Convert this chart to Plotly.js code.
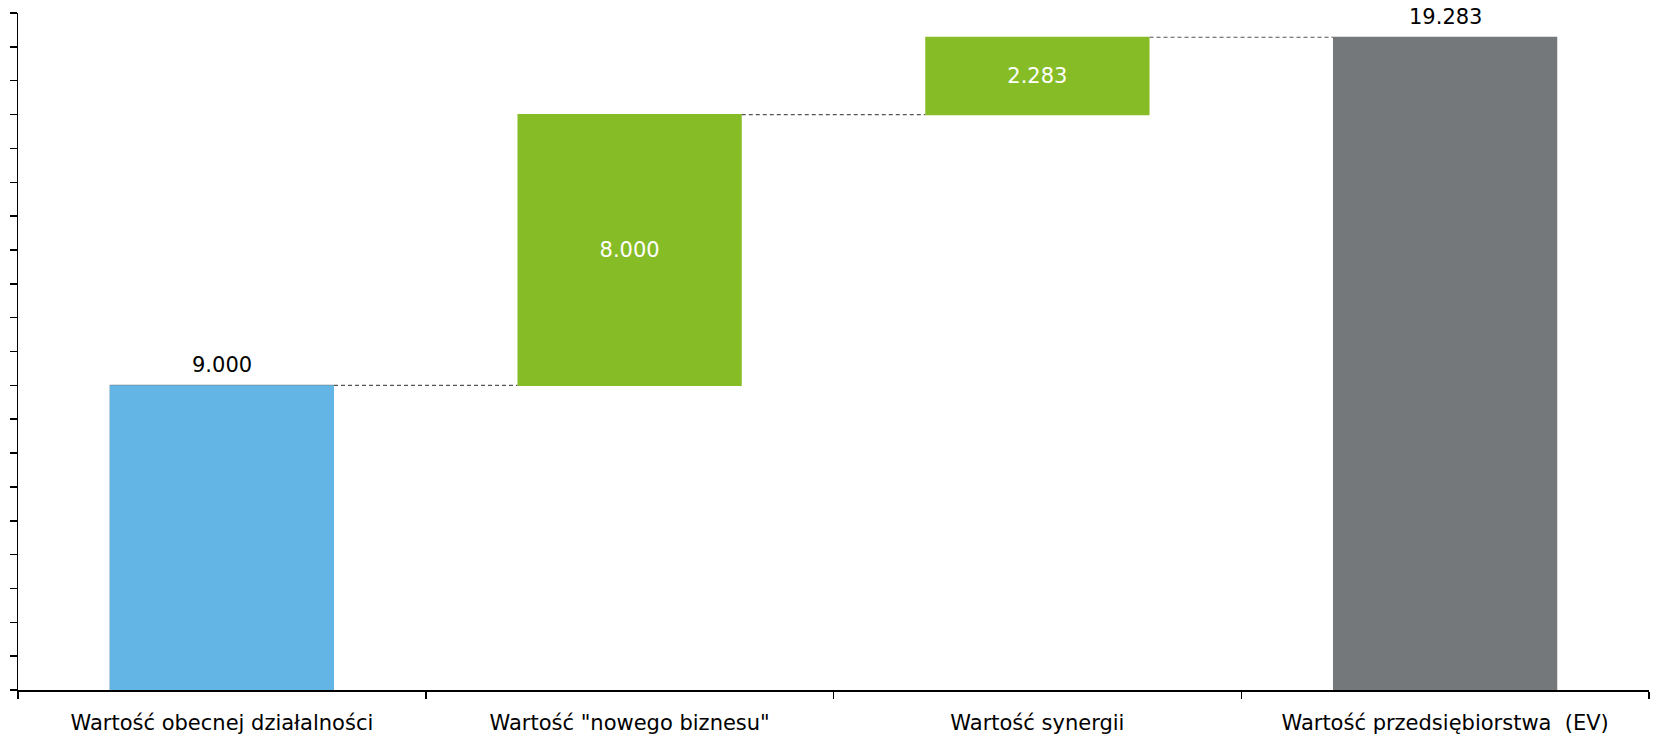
<!DOCTYPE html>
<html>
<head>
<meta charset="utf-8">
<script src="https://cdn.plot.ly/plotly-3.0.1.min.js"></script>
<style>
html,body{margin:0;padding:0;background:#fff;}
#chart{width:1654px;height:737px;}
</style>
</head>
<body>
<div id="chart"></div>
<script>
const categories = ['Wartość obecnej działalności', 'Wartość "nowego biznesu"', 'Wartość synergii', 'Wartość przedsiębiorstwa  (EV)'];
const values = [9000, 8000, 2283, 19283];
const measures = ['absolute', 'relative', 'relative', 'total'];
const labelInside = [false, true, true, false];

function fmt(v) { return String(v).replace(/\B(?=(\d{3})+(?!\d))/g, '.'); }

const FONT = 'Verdana, "DejaVu Sans", sans-serif';

const waterfall = {
  type: 'waterfall',
  x: categories,
  y: values.map((v, i) => measures[i] === 'total' ? 0 : v),
  measure: measures,
  text: values.map(fmt),
  textinfo: 'text',
  textposition: labelInside.map(b => b ? 'inside' : 'none'),
  insidetextfont: {family: FONT, size: 21, color: '#ffffff'},
  insidetextanchor: 'middle',
  constraintext: 'none',
  cliponaxis: false,
  width: 0.55,
  increasing: {marker: {color: '#86BC25'}},
  decreasing: {marker: {color: '#86BC25'}},
  totals: {marker: {color: '#75787B'}},
  connector: {mode: 'between', line: {color: '#555555', width: 1.2, dash: '4px,3px'}},
  hoverinfo: 'skip',
  showlegend: false
};

const firstBar = {
  type: 'bar',
  x: [categories[0]],
  y: [values[0]],
  width: 0.55,
  marker: {color: '#62B5E5'},
  hoverinfo: 'skip',
  showlegend: false
};

const annotations = categories.map((c, i) => labelInside[i] ? null : {
  x: c, y: values[i], xref: 'x', yref: 'y',
  text: fmt(values[i]), showarrow: false,
  yanchor: 'bottom', xanchor: 'center', yshift: 6,
  font: {family: FONT, size: 21, color: '#000000'}
}).filter(a => a);

const layout = {
  width: 1654,
  height: 737,
  margin: {l: 18, r: 5, t: 13, b: 47},
  paper_bgcolor: '#ffffff',
  plot_bgcolor: '#ffffff',
  font: {family: FONT, size: 21, color: '#000000'},
  showlegend: false,
  barmode: 'overlay',
  annotations: annotations,
  xaxis: {
    type: 'category',
    tickson: 'boundaries',
    ticks: 'outside',
    ticklen: 7,
    tickwidth: 1.5,
    tickcolor: '#000',
    ticklabelstandoff: 13,
    showline: true,
    linecolor: '#000',
    linewidth: 1.5,
    showgrid: false,
    zeroline: false,
    automargin: false,
    tickfont: {family: FONT, size: 21, color: '#000'}
  },
  yaxis: {
    range: [0, 20000],
    dtick: 1000,
    tick0: 0,
    ticks: 'outside',
    ticklen: 7,
    tickwidth: 1.5,
    tickcolor: '#000',
    showticklabels: false,
    showline: true,
    linecolor: '#000',
    linewidth: 1.5,
    showgrid: false,
    zeroline: false
  }
};

Plotly.newPlot('chart', [waterfall, firstBar], layout, {displayModeBar: false, staticPlot: true});
</script>
</body>
</html>
